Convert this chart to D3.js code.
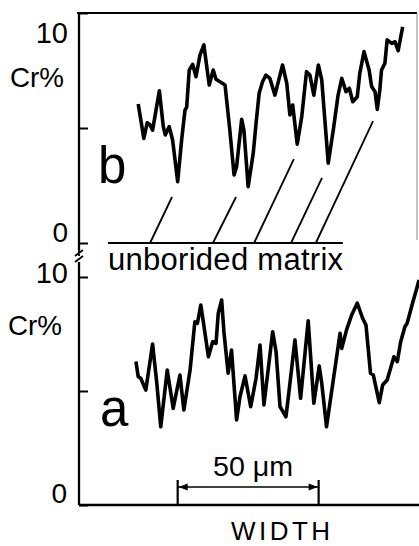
<!DOCTYPE html>
<html>
<head>
<meta charset="utf-8">
<script src="https://cdn.jsdelivr.net/npm/d3@7"></script>
<style>
  body { margin: 0; background: #fff; }
  svg text { font-family: "Liberation Sans", Arial, sans-serif; fill: #000; }
</style>
</head>
<body>
<script>
// width in micrometres, Cr in %
var bX = [21.0, 23.0, 24.2, 25.2, 26.1, 28.5, 29.9, 30.6, 32.0, 33.2, 35.0, 36.4, 37.6, 38.2, 39.1, 40.3, 41.5, 42.9, 44.3, 45.0,
          46.2, 47.6, 48.6, 50.0, 51.8, 53.5, 55.0, 55.9, 57.7, 58.5, 60.0, 61.8, 62.8, 63.9, 65.1, 66.3, 67.7, 69.5, 72.2, 73.7,
          74.8, 75.8, 77.4, 79.0, 80.7, 81.9, 83.3, 84.9, 86.1, 88.4, 90.2, 91.9, 93.2, 94.7, 95.9, 97.1, 98.7, 99.6, 101.1, 102.9,
          103.8, 105.0, 105.8, 106.7, 107.3, 108.5, 109.3, 110.9, 112.1, 113.2, 114.8];
var bCr = [6.04, 4.55, 5.23, 5.13, 4.91, 6.62, 5.06, 4.70, 5.06, 4.48, 2.67, 4.48, 5.78, 5.91, 7.52, 7.77, 7.23, 8.17, 8.61, 7.96,
           6.87, 7.52, 7.12, 7.01, 6.87, 4.91, 2.96, 3.32, 5.38, 4.91, 2.45, 3.90, 5.20, 6.51, 7.01, 7.30, 7.16, 6.43, 7.74, 6.94,
           5.57, 6.00, 4.30, 5.49, 7.45, 7.30, 6.43, 7.74, 7.09, 3.47, 4.91, 6.43, 7.16, 6.58, 6.73, 6.14, 6.36, 7.38, 8.32, 7.52,
           6.80, 6.58, 5.81, 6.65, 7.52, 7.81, 8.83, 8.68, 8.75, 8.36, 9.40];

var aX = [20.2, 21.0, 21.9, 23.7, 26.1, 27.6, 29.0, 31.3, 33.4, 35.8, 37.2, 39.4, 41.1, 42.0, 43.2, 44.1, 45.9, 47.4, 48.6, 49.4,
          50.6, 51.4, 52.9, 54.1, 55.9, 57.1, 58.9, 60.9, 62.8, 64.2, 65.6, 68.7, 69.9, 71.3, 72.4, 73.4, 74.2, 76.6, 78.6, 81.3,
          83.3, 85.2, 86.1, 87.8, 90.8, 92.6, 93.2, 94.9, 96.7, 98.7, 100.6, 101.8, 103.4, 104.4, 106.5, 107.7, 109.3, 111.7, 112.9, 114.1,
          115.6, 116.4, 118.3, 119.8, 120.6];
var aCr = [6.29, 5.63, 5.56, 5.04, 7.06, 5.34, 3.43, 5.92, 4.24, 5.70, 4.17, 5.92, 8.04, 7.97, 8.77, 8.04, 6.50, 7.16, 7.09, 8.41,
           8.99, 7.60, 5.78, 6.80, 3.73, 4.75, 5.66, 4.31, 5.56, 7.02, 4.39, 7.60, 6.72, 4.31, 4.09, 3.87, 4.68, 7.24, 4.68, 8.08,
           4.46, 6.10, 5.34, 3.43, 6.00, 7.53, 6.87, 7.68, 8.33, 8.85, 8.19, 7.89, 5.78, 5.70, 4.49, 5.26, 5.48, 6.50, 6.29, 7.16,
           7.82, 7.97, 8.85, 9.50, 9.87];

// leader lines from the "unborided matrix" bar up to the minima of b
var leadX0 = [25.2, 47.5, 62.1, 75.2, 84.0];
var leadX1 = [33.0, 55.7, 76.2, 86.2, 104.3];
var leadY1 = [2.0, 2.0, 3.65, 2.83, 5.3];

var yTicks = [0, 5, 10];
var scaleBar = [35, 85];

var W = 419, H = 546;
var x = d3.scaleLinear().domain([0, 120.6]).range([79, 419]);
var yB = d3.scaleLinear().domain([0, 10]).range([243, 13]);
var yA = d3.scaleLinear().domain([0, 10]).range([505, 277]);

var svg = d3.select("body").append("svg")
    .attr("width", W)
    .attr("height", H);

// frame of the upper panel
svg.append("line").attr("x1", x(0) - 2).attr("x2", 417).attr("y1", yB(10)).attr("y2", yB(10))
    .attr("stroke", "#000").attr("stroke-width", 1.8);
svg.append("line").attr("x1", 417).attr("x2", 417).attr("y1", yB(10)).attr("y2", 240)
    .attr("stroke", "#888").attr("stroke-width", 1);

// y axes (ticks inward, labels drawn separately)
function yAxis(scale, top, bottom) {
  var g = svg.append("g").attr("transform", "translate(" + x(0) + ",0)");
  g.call(d3.axisRight(scale).tickValues(yTicks).tickSize(9).tickFormat(""));
  g.select(".domain").remove();
  g.selectAll(".tick line").attr("stroke-width", 2);
  g.append("line").attr("y1", top).attr("y2", bottom).attr("stroke", "#000").attr("stroke-width", 2.3);
}
yAxis(yB, yB(10), 250);
yAxis(yA, 262, yA(0));

// axis break marks
svg.append("path")
    .attr("d", "M75,256 L83,250 M75,262 L83,256 M79,250 L79,256")
    .attr("fill", "none").attr("stroke", "#000").attr("stroke-width", 1.8);

// bottom x axis
svg.append("line").attr("x1", x(0)).attr("x2", W).attr("y1", yA(0)).attr("y2", yA(0))
    .attr("stroke", "#000").attr("stroke-width", 2.3);

// tick labels
var lab = svg.append("g");
lab.append("text").attr("x", 68).attr("y", yB(10) + 30).attr("text-anchor", "end").attr("font-size", 29).text("10");
lab.append("text").attr("x", 68).attr("y", yB(0) - 1).attr("text-anchor", "end").attr("font-size", 28).text("0");
lab.append("text").attr("x", 68).attr("y", yA(10) + 6).attr("text-anchor", "end").attr("font-size", 29).text("10");
lab.append("text").attr("x", 67).attr("y", yA(0) - 2).attr("text-anchor", "end").attr("font-size", 28).text("0");
lab.append("text").attr("x", 10).attr("y", 87).attr("font-size", 28)
    .attr("textLength", 54).attr("lengthAdjust", "spacingAndGlyphs").text("Cr%");
lab.append("text").attr("x", 8).attr("y", 335).attr("font-size", 28)
    .attr("textLength", 54).attr("lengthAdjust", "spacingAndGlyphs").text("Cr%");

// panel letters
svg.append("text").attr("x", 98).attr("y", 183).attr("font-size", 51).text("b");
svg.append("text").attr("x", 100).attr("y", 426).attr("font-size", 51).text("a");

// curves
var line = d3.line();
svg.append("path")
    .attr("d", line(bX.map(function(d, i) { return [x(d), yB(bCr[i])]; })))
    .attr("fill", "none").attr("stroke", "#000").attr("stroke-width", 3.6).attr("stroke-linejoin", "round");
svg.append("path")
    .attr("d", line(aX.map(function(d, i) { return [x(d), yA(aCr[i])]; })))
    .attr("fill", "none").attr("stroke", "#000").attr("stroke-width", 3.6).attr("stroke-linejoin", "round");

// unborided matrix bar + leaders
svg.append("line").attr("x1", x(10.3)).attr("x2", x(93.6)).attr("y1", yB(0)).attr("y2", yB(0))
    .attr("stroke", "#000").attr("stroke-width", 1.8);
svg.selectAll(".lead").data(leadX0).enter().append("line")
    .attr("class", "lead")
    .attr("x1", function(d) { return x(d); })
    .attr("y1", yB(0))
    .attr("x2", function(d, i) { return x(leadX1[i]); })
    .attr("y2", function(d, i) { return yB(leadY1[i]); })
    .attr("stroke", "#000").attr("stroke-width", 1.8);
svg.append("text").attr("x", x(10.3)).attr("y", 270).attr("font-size", 31)
    .attr("textLength", 235).attr("lengthAdjust", "spacing").text("unborided matrix");

// 50 um scale bar
var sb0 = x(scaleBar[0]), sb1 = x(scaleBar[1]), sbY = 487;
svg.append("line").attr("x1", sb0).attr("x2", sb1).attr("y1", sbY).attr("y2", sbY)
    .attr("stroke", "#000").attr("stroke-width", 1.5);
[sb0, sb1].forEach(function(p) {
  svg.append("line").attr("x1", p).attr("x2", p).attr("y1", sbY - 7).attr("y2", yA(0))
      .attr("stroke", "#000").attr("stroke-width", 2.2);
});
svg.append("path")
    .attr("d", "M" + (sb0 + 1) + "," + sbY + " l9,-3.5 l0,7 Z M" + (sb1 - 1) + "," + sbY + " l-9,-3.5 l0,7 Z")
    .attr("fill", "#000");
svg.append("text").attr("x", 213).attr("y", 476).attr("font-size", 28)
    .attr("textLength", 80).attr("lengthAdjust", "spacingAndGlyphs").text("50 \u03bcm");

svg.append("text").attr("x", 231).attr("y", 540).attr("font-size", 26)
    .attr("textLength", 99).attr("lengthAdjust", "spacing").text("WIDTH");
</script>
</body>
</html>
